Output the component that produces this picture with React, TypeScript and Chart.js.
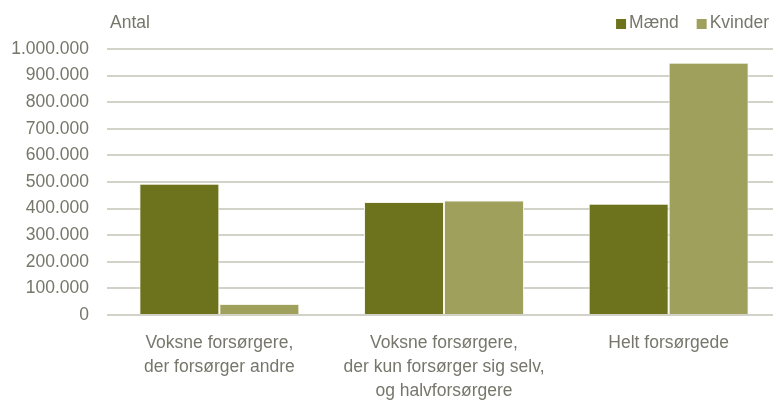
import React, { useEffect, useRef } from "react";
import { Chart, registerables } from "chart.js";

Chart.register(...registerables);

const categories: string[][] = [
  ["Voksne forsørgere,", "der forsørger andre"],
  ["Voksne forsørgere,", "der kun forsørger sig selv,", "og halvforsørgere"],
  ["Helt forsørgede"],
];
const maend: number[] = [493000, 425000, 418000];
const kvinder: number[] = [41000, 430000, 948000];
const seriesNames: string[] = ["Mænd", "Kvinder"];
const yTitle = "Antal";

const COLORS = ["#6d721d", "#9ea05c"];
const TEXT = "#76766b";
const FONT = "'Liberation Sans', Arial, sans-serif";

function fmt(v: number): string {
  return String(Math.round(v)).replace(/\B(?=(\d{3})+(?!\d))/g, ".");
}

const decorPlugin = {
  id: "decor",
  afterDraw(chart: any) {
    const ctx = chart.ctx;
    ctx.save();
    ctx.font = `17.5px ${FONT}`;
    ctx.fillStyle = TEXT;
    ctx.textBaseline = "middle";
    ctx.textAlign = "left";
    ctx.fillText(yTitle, 110, 23);
    let x = 769;
    const items = seriesNames.map((n, i) => ({ n, c: COLORS[i] })).reverse();
    items.forEach((it) => {
      const w = ctx.measureText(it.n).width;
      x -= w;
      ctx.fillStyle = TEXT;
      ctx.fillText(it.n, x, 23);
      x -= 13;
      ctx.fillStyle = it.c;
      ctx.fillRect(x, 19, 10, 10);
      x -= 18;
    });
    ctx.restore();
  },
};

export default function App() {
  const ref = useRef<HTMLCanvasElement>(null);
  useEffect(() => {
    document.body.style.margin = "0";
    document.body.style.overflow = "hidden";
    document.documentElement.style.overflow = "hidden";
    const chart = new Chart(ref.current!, {
      type: "bar",
      data: {
        labels: categories,
        datasets: [
          {
            label: seriesNames[0],
            data: maend,
            backgroundColor: COLORS[0],
            borderColor: "#f4f3e8",
            borderWidth: 1,
            categoryPercentage: 0.712,
            barPercentage: 1,
          },
          {
            label: seriesNames[1],
            data: kvinder,
            backgroundColor: COLORS[1],
            borderColor: "#f4f3e8",
            borderWidth: 1,
            categoryPercentage: 0.712,
            barPercentage: 1,
          },
        ],
      },
      options: {
        animation: false,
        responsive: false,
        devicePixelRatio: 1,
        layout: { padding: { left: 0, right: 9, top: 49, bottom: 0 } },
        plugins: {
          legend: { display: false },
          tooltip: { enabled: false },
        },
        scales: {
          x: {
            grid: { display: false },
            border: { display: false },
            ticks: {
              color: TEXT,
              font: { family: FONT, size: 17.5, lineHeight: 1.37 },
              padding: 8,
              maxRotation: 0,
              autoSkip: false,
            },
            afterFit(scale: any) {
              scale.height = 85;
            },
          },
          y: {
            min: 0,
            max: 1000000,
            border: { display: false },
            grid: { color: "#d2d2c8", lineWidth: 2, drawTicks: false },
            ticks: {
              stepSize: 100000,
              autoSkip: false,
              color: TEXT,
              font: { family: FONT, size: 17.5 },
              padding: 18,
              callback: (v: any) => fmt(Number(v)),
            },
            afterFit(scale: any) {
              scale.width = 107;
            },
          },
        },
      },
      plugins: [decorPlugin],
    });
    return () => chart.destroy();
  }, []);
  return (
    <div style={{ position: "absolute", left: 0, top: 0, width: 790, height: 400 }}>
      <canvas ref={ref} width={790} height={400} />
    </div>
  );
}
